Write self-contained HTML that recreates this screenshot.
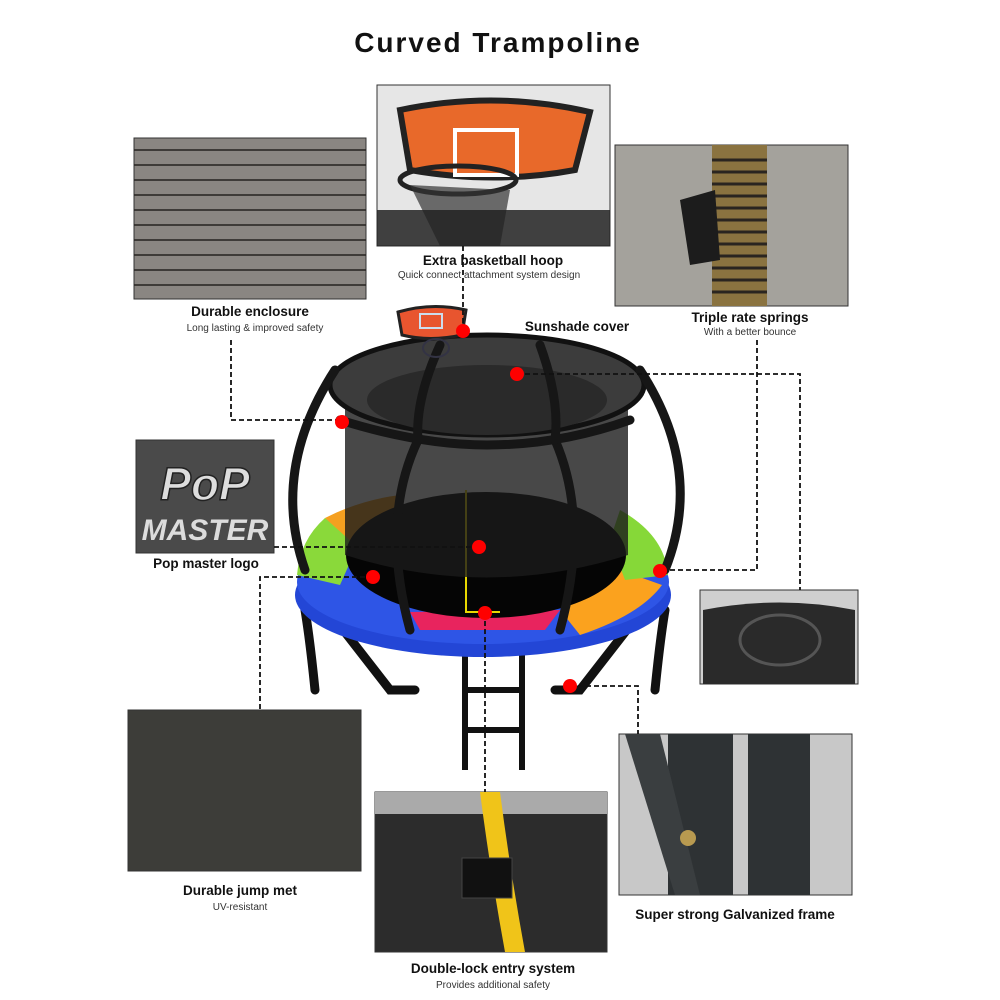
<!DOCTYPE html>
<html><head><style>
body{margin:0;background:#fff;}
svg{display:block;}
text{font-family:"Liberation Sans",Arial,sans-serif;}
.t{font-weight:bold;font-size:13.5px;fill:#111;text-anchor:middle;}
.s{font-size:10px;fill:#333;text-anchor:middle;}
.d{stroke:#111;stroke-width:1.8;stroke-dasharray:5,3;fill:none;}
</style></head><body>
<svg width="1000" height="1000" viewBox="0 0 1000 1000">
<text x="498" y="52" text-anchor="middle" font-size="28" font-weight="bold" fill="#111" letter-spacing="2">Curved Trampoline</text>

<!-- net photo -->
<rect x="134" y="138" width="232" height="161" fill="#8a8682" stroke="#333"/>
<g stroke="#2a2826" stroke-width="2" fill="none" opacity="0.8">
<path d="M134 150 H366 M134 165 H366 M134 180 H366 M134 195 H366 M134 210 H366 M134 225 H366 M134 240 H366 M134 255 H366 M134 270 H366 M134 285 H366"/>
</g>
<!-- basketball photo -->
<rect x="377" y="85" width="233" height="161" fill="#e6e6e6" stroke="#333"/>
<path d="M400 110 Q495 90 590 112 L575 170 Q495 185 410 170 Z" fill="#e8692a" stroke="#222" stroke-width="6"/>
<rect x="455" y="130" width="62" height="45" fill="none" stroke="#fff" stroke-width="4"/>
<ellipse cx="458" cy="180" rx="58" ry="14" fill="none" stroke="#222" stroke-width="5"/>
<path d="M410 185 L440 246 H500 L510 190 Z" fill="#333" opacity="0.7"/>
<rect x="377" y="210" width="233" height="36" fill="#222" opacity="0.85"/>
<!-- springs photo -->
<rect x="615" y="145" width="233" height="161" fill="#a4a29c" stroke="#333"/>
<rect x="712" y="145" width="55" height="161" fill="#8a7340"/>
<g stroke="#2a2520" stroke-width="3"><path d="M712 160H767M712 172H767M712 184H767M712 196H767M712 208H767M712 220H767M712 232H767M712 244H767M712 256H767M712 268H767M712 280H767M712 292H767"/></g>
<path d="M680 200 L715 190 L720 260 L690 265 Z" fill="#1c1c1c"/>

<text class="t" x="250" y="316">Durable enclosure</text>
<text class="s" x="255" y="331">Long lasting &amp; improved safety</text>
<text class="t" x="493" y="265">Extra basketball hoop</text>
<text class="s" x="489" y="278">Quick connect attachment system design</text>
<text class="t" x="750" y="322">Triple rate springs</text>
<text class="s" x="750" y="335">With a better bounce</text>
<text class="t" x="577" y="331">Sunshade cover</text>

<!-- pop master -->
<rect x="136" y="440" width="138" height="113" fill="#4a4a4a" stroke="#333"/>
<text x="205" y="500" text-anchor="middle" font-size="46" font-weight="bold" fill="#ddd" stroke="#222" stroke-width="1.5" font-style="italic">PoP</text>
<text x="205" y="540" text-anchor="middle" font-size="30" font-weight="bold" fill="#ddd" font-style="italic">MASTER</text>
<text class="t" x="206" y="568">Pop master logo</text>

<!-- small right photo -->
<rect x="700" y="590" width="158" height="94" fill="#cfcfcf" stroke="#333"/>
<path d="M703 610 Q780 595 855 610 L855 684 H703 Z" fill="#2a2a2a"/>
<ellipse cx="780" cy="640" rx="40" ry="25" fill="none" stroke="#555" stroke-width="3"/>

<!-- jump mat -->
<rect x="128" y="710" width="233" height="161" fill="#3d3d39" stroke="#333"/>
<text class="t" x="240" y="895">Durable jump met</text>
<text class="s" x="240" y="910">UV-resistant</text>

<!-- entry -->
<rect x="375" y="792" width="232" height="160" fill="#2c2c2c" stroke="#333"/>
<rect x="375" y="792" width="232" height="22" fill="#aaa"/>
<path d="M480 792 Q490 870 505 952 L525 952 Q510 870 500 792 Z" fill="#f0c419"/>
<rect x="462" y="858" width="50" height="40" fill="#111" stroke="#444"/>
<text class="t" x="493" y="973">Double-lock entry system</text>
<text class="s" x="493" y="988">Provides additional safety</text>

<!-- frame -->
<rect x="619" y="734" width="233" height="161" fill="#c8c8c8" stroke="#333"/>
<rect x="668" y="734" width="65" height="161" fill="#2e3234"/>
<rect x="748" y="734" width="62" height="161" fill="#2e3234"/>
<path d="M625 734 L660 734 L700 895 H675 Z" fill="#3a3e40"/>
<circle cx="688" cy="838" r="8" fill="#b89a50"/>
<text class="t" x="735" y="919">Super strong Galvanized frame</text>

<!-- trampoline -->
<g stroke="#111" stroke-width="9" fill="none" stroke-linecap="round">
<path d="M315 690 Q310 640 305 610"/><path d="M655 690 Q660 640 665 610"/>
<path d="M320 600 L390 690 L415 690"/><path d="M650 600 L580 690 L555 690"/>
</g>
<g stroke="#111" stroke-width="6"><path d="M465 650 V770 M522 650 V770 M465 690 H522 M465 730 H522"/></g>
<ellipse cx="483" cy="595" rx="188" ry="62" fill="#2346d6"/>
<ellipse cx="483" cy="582" rx="186" ry="62" fill="#2e55e6"/>
<path d="M297 575 Q300 540 325 518 L360 540 L340 585 Z" fill="#8ad93a"/>
<path d="M325 518 Q360 500 400 495 L400 530 L355 545 Z" fill="#f5a020"/>
<path d="M420 630 L545 630 L560 610 L410 612 Z" fill="#e8245e"/>
<path d="M560 610 L580 635 Q640 615 662 585 L620 570 Z" fill="#fba21e"/>
<path d="M620 510 Q665 535 668 575 L625 580 L610 540 Z" fill="#86d838"/>
<ellipse cx="486" cy="555" rx="140" ry="63" fill="#050505"/>
<path d="M466 490 V612 H500" stroke="#e8d800" stroke-width="2" fill="none"/>
<path d="M345 385 L345 555 Q486 600 628 555 L628 385 Z" fill="#1a1a1a" opacity="0.8"/>
<ellipse cx="487" cy="385" rx="157" ry="50" fill="#3c3c3c" stroke="#111" stroke-width="5"/>
<ellipse cx="487" cy="400" rx="120" ry="35" fill="#2a2a2a"/>
<g stroke="#161616" stroke-width="9" fill="none" stroke-linecap="round">
<path d="M335 370 Q270 470 305 570"/><path d="M640 370 Q705 470 665 570"/>
<path d="M418 440 Q380 520 410 630"/><path d="M555 440 Q590 520 560 630"/>
<path d="M340 420 Q420 445 487 445 Q560 445 630 420"/>
<path d="M440 345 Q415 400 418 440"/><path d="M540 345 Q560 400 555 440"/>
</g>
<path d="M398 312 Q432 302 466 310 L462 335 Q430 342 402 335 Z" fill="#e8552f" stroke="#222" stroke-width="3"/>
<rect x="420" y="314" width="22" height="14" fill="none" stroke="#cde" stroke-width="2"/>
<ellipse cx="436" cy="348" rx="13" ry="9" fill="none" stroke="#334" stroke-width="2"/>

<!-- dashed leaders -->
<path class="d" d="M231 340 V420 H342"/>
<path class="d" d="M463 246 V331"/>
<path class="d" d="M517 374 H800 V590"/>
<path class="d" d="M757 340 V570 H660"/>
<path class="d" d="M274 547 H479"/>
<path class="d" d="M373 577 H260 V710"/>
<path class="d" d="M485 613 V792"/>
<path class="d" d="M570 686 H638 V734"/>
<g fill="#f00">
<circle cx="463" cy="331" r="7"/><circle cx="517" cy="374" r="7"/><circle cx="342" cy="422" r="7"/>
<circle cx="479" cy="547" r="7"/><circle cx="373" cy="577" r="7"/><circle cx="660" cy="571" r="7"/>
<circle cx="485" cy="613" r="7"/><circle cx="570" cy="686" r="7"/>
</g>
</svg>
</body></html>
